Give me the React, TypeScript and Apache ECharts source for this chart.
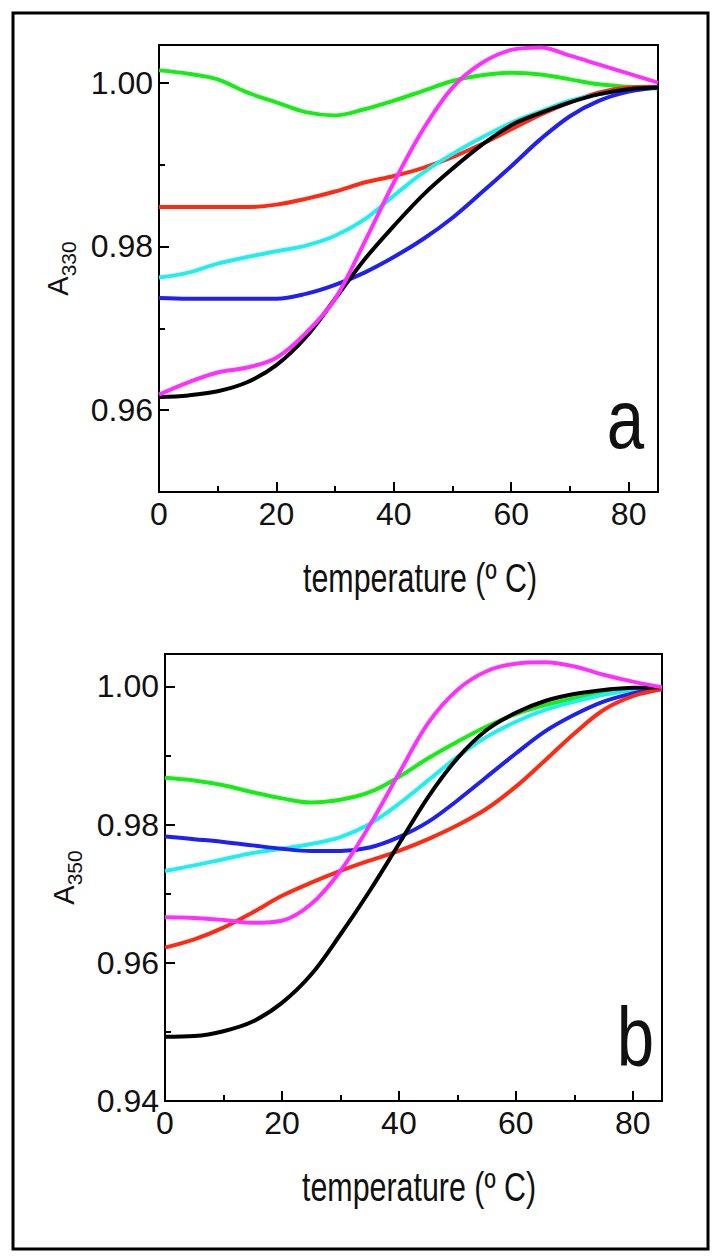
import React, { useEffect, useRef } from "react";
import * as echarts from "echarts";

// Temperature (°C) sample points
const temps = [0, 5, 10, 15, 20, 25, 30, 35, 40, 45, 50, 55, 60, 65, 70, 75, 80, 85];

// Panel a: A330
const a330Green = [1.0015, 1.0011, 1.0004, 0.9988, 0.9976, 0.9964, 0.996, 0.99675, 0.9978, 0.999, 1.0002, 1.0009, 1.0012, 1.001, 1.0004, 0.9998, 0.9995, 0.9993];
const a330Red = [0.9848, 0.9848, 0.9848, 0.9848, 0.9851, 0.9858, 0.9867, 0.9878, 0.9886, 0.9896, 0.9909, 0.9925, 0.9943, 0.9961, 0.9976, 0.9988, 0.9994, 0.9995];
const a330Cyan = [0.9762, 0.9768, 0.9779, 0.9787, 0.9794, 0.9801, 0.9813, 0.9833, 0.9862, 0.989, 0.9913, 0.9933, 0.9951, 0.9965, 0.9978, 0.9986, 0.9991, 0.9994];
const a330Blue = [0.9737, 0.9736, 0.9736, 0.9736, 0.9736, 0.9742, 0.9753, 0.9768, 0.9787, 0.9809, 0.9835, 0.9866, 0.9898, 0.9931, 0.9959, 0.9978, 0.9989, 0.9994];
const a330Black = [0.9616, 0.9618, 0.9623, 0.9634, 0.9655, 0.9689, 0.9736, 0.9784, 0.9825, 0.9863, 0.9895, 0.9924, 0.9948, 0.9963, 0.9976, 0.9986, 0.9992, 0.9994];
const a330Magenta = [0.9619, 0.9634, 0.9646, 0.9652, 0.9664, 0.9694, 0.9736, 0.9805, 0.9878, 0.9943, 0.9994, 1.0024, 1.004, 1.0043, 1.0033, 1.0022, 1.0011, 1.0];

// Panel b: A350
const a350Green = [0.9868, 0.9864, 0.9857, 0.9847, 0.9838, 0.9832, 0.9836, 0.9847, 0.9869, 0.9896, 0.992, 0.9942, 0.996, 0.9973, 0.9983, 0.999, 0.9996, 0.9999];
const a350Cyan = [0.9733, 0.9741, 0.975, 0.9759, 0.9765, 0.9772, 0.9782, 0.9801, 0.983, 0.9864, 0.9898, 0.9927, 0.9949, 0.9966, 0.9978, 0.9988, 0.9995, 0.9999];
const a350Blue = [0.9783, 0.9779, 0.9775, 0.977, 0.9765, 0.9762, 0.9762, 0.9767, 0.9782, 0.9804, 0.9835, 0.9869, 0.9903, 0.9935, 0.9959, 0.9978, 0.999, 0.9998];
const a350Red = [0.9622, 0.9634, 0.9651, 0.9673, 0.9697, 0.9716, 0.9733, 0.9748, 0.9762, 0.9779, 0.9799, 0.9823, 0.9855, 0.9893, 0.9932, 0.9966, 0.9986, 0.9996];
const a350Black = [0.9493, 0.9494, 0.9501, 0.9515, 0.9542, 0.9583, 0.9641, 0.9704, 0.9772, 0.984, 0.9896, 0.9937, 0.9962, 0.9979, 0.9989, 0.9995, 0.9998, 0.9999];
const a350Magenta = [0.9666, 0.9665, 0.9662, 0.9658, 0.9661, 0.9685, 0.9733, 0.9799, 0.9874, 0.9947, 0.9995, 1.0022, 1.0033, 1.0035, 1.0029, 1.0017, 1.0007, 0.9999];

// Tick values
const xMajorTicks = [0, 20, 40, 60, 80];
const xMinorTicks = [10, 30, 50, 70];
const yMajorTicksA = [0.96, 0.98, 1.0];
const yMinorTicksA = [0.97, 0.99];
const yMajorTicksB = [0.94, 0.96, 0.98, 1.0];
const yMinorTicksB = [0.95, 0.97, 0.99];

const xTitle = "temperature (º C)";
const panelLabels = ["a", "b"];

const COLORS = {
  green: "#14ee14",
  red: "#ff2a14",
  cyan: "#1ef0f0",
  blue: "#2020f0",
  black: "#000000",
  magenta: "#ff30ff",
};

const FONT = "'Liberation Sans Narrow', 'Arial Narrow', 'Liberation Sans', Arial, sans-serif";

function lineSeries(data: number[], color: string, axisIndex: number) {
  return {
    type: "line",
    xAxisIndex: axisIndex,
    yAxisIndex: axisIndex,
    data: temps.map((t, i) => [t, data[i]]),
    smooth: 0.35,
    symbol: "none",
    clip: true,
    silent: true,
    lineStyle: { color, width: 4 },
    itemStyle: { color },
  };
}

function mainXAxis(gridIndex: number) {
  return {
    type: "value",
    gridIndex,
    min: 0,
    max: 85,
    position: "bottom",
    axisLine: { show: true, onZero: false, lineStyle: { color: "#000", width: 2 } },
    axisTick: { show: true, inside: true, length: 10, customValues: xMajorTicks, lineStyle: { color: "#000", width: 2 } },
    axisLabel: { show: true, customValues: xMajorTicks, margin: 6, color: "#111", fontSize: 32, fontFamily: FONT },
    splitLine: { show: false },
  };
}

function minorXAxis(gridIndex: number) {
  return {
    type: "value",
    gridIndex,
    min: 0,
    max: 85,
    position: "bottom",
    axisLine: { show: false, onZero: false },
    axisTick: { show: true, inside: true, length: 6, customValues: xMinorTicks, lineStyle: { color: "#000", width: 2 } },
    axisLabel: { show: false },
    splitLine: { show: false },
  };
}

function mainYAxis(gridIndex: number, min: number, max: number, ticks: number[], sub: string) {
  return {
    type: "value",
    gridIndex,
    min,
    max,
    position: "left",
    axisLine: { show: true, onZero: false, lineStyle: { color: "#000", width: 2 } },
    axisTick: { show: true, inside: true, length: 10, customValues: ticks, lineStyle: { color: "#000", width: 2 } },
    axisLabel: {
      show: true,
      customValues: ticks,
      margin: 6,
      color: "#111",
      fontSize: 32,
      fontFamily: FONT,
      formatter: (v: number) => v.toFixed(2),
    },
    splitLine: { show: false },
    name: `{a|A}{s|${sub}}`,
    nameLocation: "middle",
    nameRotate: 90,
    nameGap: 80,
    nameTextStyle: {
      color: "#111",
      fontFamily: FONT,
      rich: {
        a: { fontSize: 29, fontFamily: FONT, color: "#111", lineHeight: 36, verticalAlign: "top" },
        s: { fontSize: 21, fontFamily: FONT, color: "#111", lineHeight: 36, verticalAlign: "bottom" },
      },
    },
  };
}

function minorYAxis(gridIndex: number, min: number, max: number, ticks: number[]) {
  return {
    type: "value",
    gridIndex,
    min,
    max,
    position: "left",
    axisLine: { show: false, onZero: false },
    axisTick: { show: true, inside: true, length: 6, customValues: ticks, lineStyle: { color: "#000", width: 2 } },
    axisLabel: { show: false },
    splitLine: { show: false },
  };
}

function condensedText(text: string, x: number, y: number, fontSize: number, align: string, scaleX: number) {
  return {
    type: "text",
    x,
    y,
    scaleX,
    silent: true,
    style: { text, fontSize, fontFamily: FONT, fill: "#111", align, verticalAlign: "middle" },
  };
}

export default function App() {
  const ref = useRef<HTMLDivElement>(null);

  useEffect(() => {
    document.body.style.margin = "0";
    if (!ref.current) return;
    const chart = echarts.init(ref.current, undefined, { renderer: "svg" });

    const gridA = { left: 159, top: 45, width: 499, height: 447 };
    const gridB = { left: 165, top: 654, width: 497, height: 447 };

    const option = {
      animation: false,
      backgroundColor: "#ffffff",
      grid: [
        { ...gridA, show: true, borderColor: "#000", borderWidth: 2, backgroundColor: "transparent", containLabel: false },
        { ...gridB, show: true, borderColor: "#000", borderWidth: 2, backgroundColor: "transparent", containLabel: false },
        { ...gridA, show: false, containLabel: false },
        { ...gridB, show: false, containLabel: false },
      ],
      xAxis: [mainXAxis(0), mainXAxis(1), minorXAxis(2), minorXAxis(3)],
      yAxis: [
        mainYAxis(0, 0.95, 1.0046, yMajorTicksA, "330"),
        mainYAxis(1, 0.94, 1.0047, yMajorTicksB, "350"),
        minorYAxis(2, 0.95, 1.0046, yMinorTicksA),
        minorYAxis(3, 0.94, 1.0047, yMinorTicksB),
      ],
      series: [
        lineSeries(a330Green, COLORS.green, 0),
        lineSeries(a330Red, COLORS.red, 0),
        lineSeries(a330Cyan, COLORS.cyan, 0),
        lineSeries(a330Blue, COLORS.blue, 0),
        lineSeries(a330Black, COLORS.black, 0),
        lineSeries(a330Magenta, COLORS.magenta, 0),
        lineSeries(a350Green, COLORS.green, 1),
        lineSeries(a350Cyan, COLORS.cyan, 1),
        lineSeries(a350Blue, COLORS.blue, 1),
        lineSeries(a350Red, COLORS.red, 1),
        lineSeries(a350Black, COLORS.black, 1),
        lineSeries(a350Magenta, COLORS.magenta, 1),
      ],
      graphic: [
        {
          type: "rect",
          shape: { x: 13, y: 13, width: 695, height: 1236 },
          style: { fill: "none", stroke: "#000", lineWidth: 3 },
          silent: true,
        },
        condensedText(xTitle, 420, 578, 40, "center", 0.76),
        condensedText(xTitle, 419, 1187, 40, "center", 0.76),
        condensedText(panelLabels[0], 644, 419, 84, "right", 0.8),
        condensedText(panelLabels[1], 654, 1037, 84, "right", 0.8),
      ],
    };

    chart.setOption(option as any);
    return () => {
      chart.dispose();
    };
  }, []);

  return <div ref={ref} style={{ width: 716, height: 1260 }} />;
}
